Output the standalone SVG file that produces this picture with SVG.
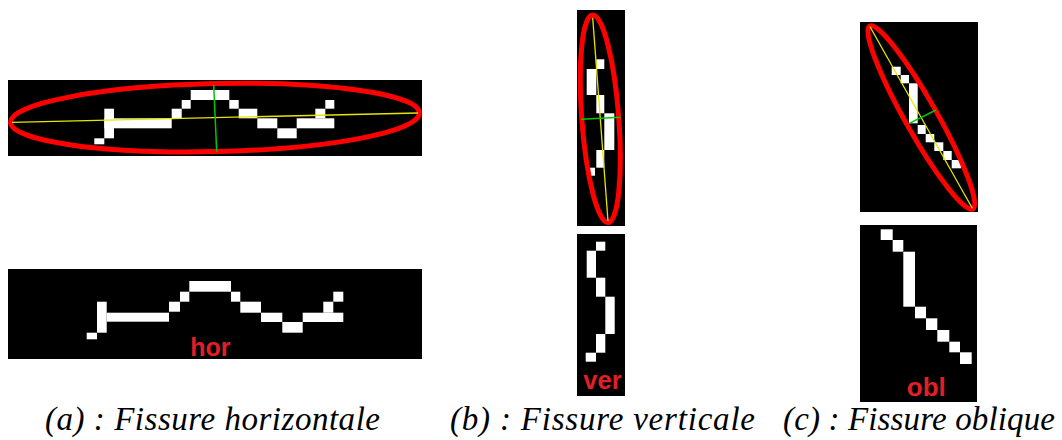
<svg xmlns="http://www.w3.org/2000/svg" width="1062" height="440" viewBox="0 0 1062 440">
<style>
.bg{fill:#000}
.px{fill:#fff}
.ell{fill:none;stroke:#ff0000;stroke-width:5}
.maj{stroke:#e6e600;stroke-width:1.3}
.min{stroke:#00c800;stroke-width:1.5}
.lbl{font-family:"Liberation Sans",Arial,sans-serif;font-weight:bold;fill:#e21f26}
.cap{font-family:"Liberation Serif","Times New Roman",serif;font-style:italic;font-size:33px;fill:#000}
</style>
<rect width="1062" height="440" fill="#fff"/>

<g id="panel-a-top">
<rect class="bg" x="8" y="80" width="414" height="76"/>
<rect class="px" x="94.3" y="138.3" width="10" height="6"/>
<rect class="px" x="104.3" y="108.7" width="9.7" height="29.6"/>
<rect class="px" x="104.3" y="118.3" width="67.4" height="10"/>
<rect class="px" x="171.7" y="108.7" width="10" height="9.6"/>
<rect class="px" x="181.7" y="100" width="9" height="8.7"/>
<rect class="px" x="190.7" y="90" width="38.6" height="10"/>
<rect class="px" x="229.3" y="100" width="9.4" height="8.7"/>
<rect class="px" x="238.7" y="108.7" width="18.6" height="9.6"/>
<rect class="px" x="257.3" y="118.3" width="20" height="10"/>
<rect class="px" x="277.3" y="128.3" width="19.4" height="10"/>
<rect class="px" x="296.7" y="118.3" width="37.6" height="10"/>
<rect class="px" x="315.3" y="108.7" width="10" height="9.6"/>
<rect class="px" x="325.3" y="100" width="9" height="8.7"/>
<ellipse class="ell" cx="215" cy="117.6" rx="204.5" ry="34" transform="rotate(-1.3 215 117.6)"/>
<line class="maj" x1="12" y1="122.3" x2="418" y2="113"/>
<line class="min" x1="213.7" y1="85" x2="216.7" y2="151.7"/>
</g>

<g id="panel-a-bottom">
<rect class="bg" x="8" y="269" width="414" height="90"/>
<rect class="px" x="86.7" y="332.7" width="10.3" height="6.6"/>
<rect class="px" x="97" y="301.7" width="9.7" height="31"/>
<rect class="px" x="106.7" y="312.7" width="62.3" height="9"/>
<rect class="px" x="169" y="301.7" width="11" height="10"/>
<rect class="px" x="180" y="291.7" width="9.3" height="10"/>
<rect class="px" x="189.3" y="281" width="41.7" height="10.7"/>
<rect class="px" x="231" y="291.7" width="9.3" height="10"/>
<rect class="px" x="240.3" y="301.7" width="20.7" height="11"/>
<rect class="px" x="261" y="312.7" width="21.3" height="9.3"/>
<rect class="px" x="282.3" y="322" width="20.4" height="10.7"/>
<rect class="px" x="302.7" y="312.7" width="40.6" height="9.3"/>
<rect class="px" x="323.3" y="301.7" width="10" height="11"/>
<rect class="px" x="333.3" y="291.7" width="10" height="10"/>
<text class="lbl" x="210.3" y="355.7" font-size="25" text-anchor="middle">hor</text>
</g>

<g id="panel-b-top">
<rect class="bg" x="577" y="10" width="48" height="216"/>
<rect class="px" x="596.3" y="59.3" width="8" height="9.7"/>
<rect class="px" x="586.7" y="69" width="9.6" height="26"/>
<rect class="px" x="596.3" y="95" width="8" height="18.3"/>
<rect class="px" x="604.3" y="113.3" width="10" height="36.7"/>
<rect class="px" x="596.3" y="150" width="8" height="17.7"/>
<rect class="px" x="589" y="167.7" width="6" height="8"/>
<ellipse class="ell" cx="600.3" cy="118.8" rx="18.5" ry="104" transform="rotate(-4.3 600.3 118.8)"/>
<line class="maj" x1="592.7" y1="17.7" x2="608" y2="221"/>
<line class="min" x1="581.3" y1="119.3" x2="620.7" y2="117.3"/>
</g>

<g id="panel-b-bottom">
<rect class="bg" x="577" y="234" width="48" height="162"/>
<rect class="px" x="596" y="241.7" width="9.3" height="9"/>
<rect class="px" x="586.7" y="250.7" width="9.3" height="27"/>
<rect class="px" x="596" y="277.7" width="9.3" height="19"/>
<rect class="px" x="605.3" y="296.7" width="9.4" height="37.3"/>
<rect class="px" x="596" y="334" width="9.3" height="18.7"/>
<rect class="px" x="585.7" y="352.7" width="10.3" height="9"/>
<text class="lbl" x="602.5" y="389.3" font-size="25.5" text-anchor="middle">ver</text>
</g>

<g id="panel-c-top">
<rect class="bg" x="860" y="22" width="118" height="190"/>
<rect class="px" x="891.7" y="66.7" width="9" height="8.3"/>
<rect class="px" x="900.7" y="75" width="8.3" height="8.3"/>
<rect class="px" x="909" y="83.3" width="8.7" height="40"/>
<rect class="px" x="917.7" y="125" width="8" height="9"/>
<rect class="px" x="925.7" y="134" width="8.6" height="8.3"/>
<rect class="px" x="934.3" y="142.3" width="9" height="8.7"/>
<rect class="px" x="943.3" y="151" width="8.4" height="9"/>
<rect class="px" x="951.7" y="160" width="9.3" height="8.3"/>
<ellipse class="ell" cx="921.3" cy="117.5" rx="105" ry="16" transform="rotate(60.6 921.3 117.5)"/>
<line class="maj" x1="870" y1="26.7" x2="972.3" y2="208.3"/>
<line class="min" x1="909.3" y1="123.3" x2="936" y2="110"/>
</g>

<g id="panel-c-bottom">
<rect class="bg" x="860" y="225" width="117" height="177"/>
<rect class="px" x="880.7" y="229.3" width="12" height="10.7"/>
<rect class="px" x="892.7" y="240" width="10.6" height="11.7"/>
<rect class="px" x="903.3" y="251.7" width="11.7" height="55"/>
<rect class="px" x="915" y="306.7" width="11" height="11.6"/>
<rect class="px" x="926" y="318.3" width="11.3" height="11.7"/>
<rect class="px" x="937.3" y="330" width="12" height="11.7"/>
<rect class="px" x="949.3" y="341.7" width="10.7" height="10.6"/>
<rect class="px" x="960" y="352.3" width="11.7" height="11.7"/>
<text class="lbl" x="926.3" y="396" font-size="26" text-anchor="middle">obl</text>
</g>

<g id="captions">
<text class="cap" x="45" y="430" textLength="335" lengthAdjust="spacing">(a) : Fissure horizontale</text>
<text class="cap" x="450" y="430" textLength="305" lengthAdjust="spacing">(b) : Fissure verticale</text>
<text class="cap" x="783" y="430" textLength="272" lengthAdjust="spacing">(c) : Fissure oblique</text>
</g>
</svg>
